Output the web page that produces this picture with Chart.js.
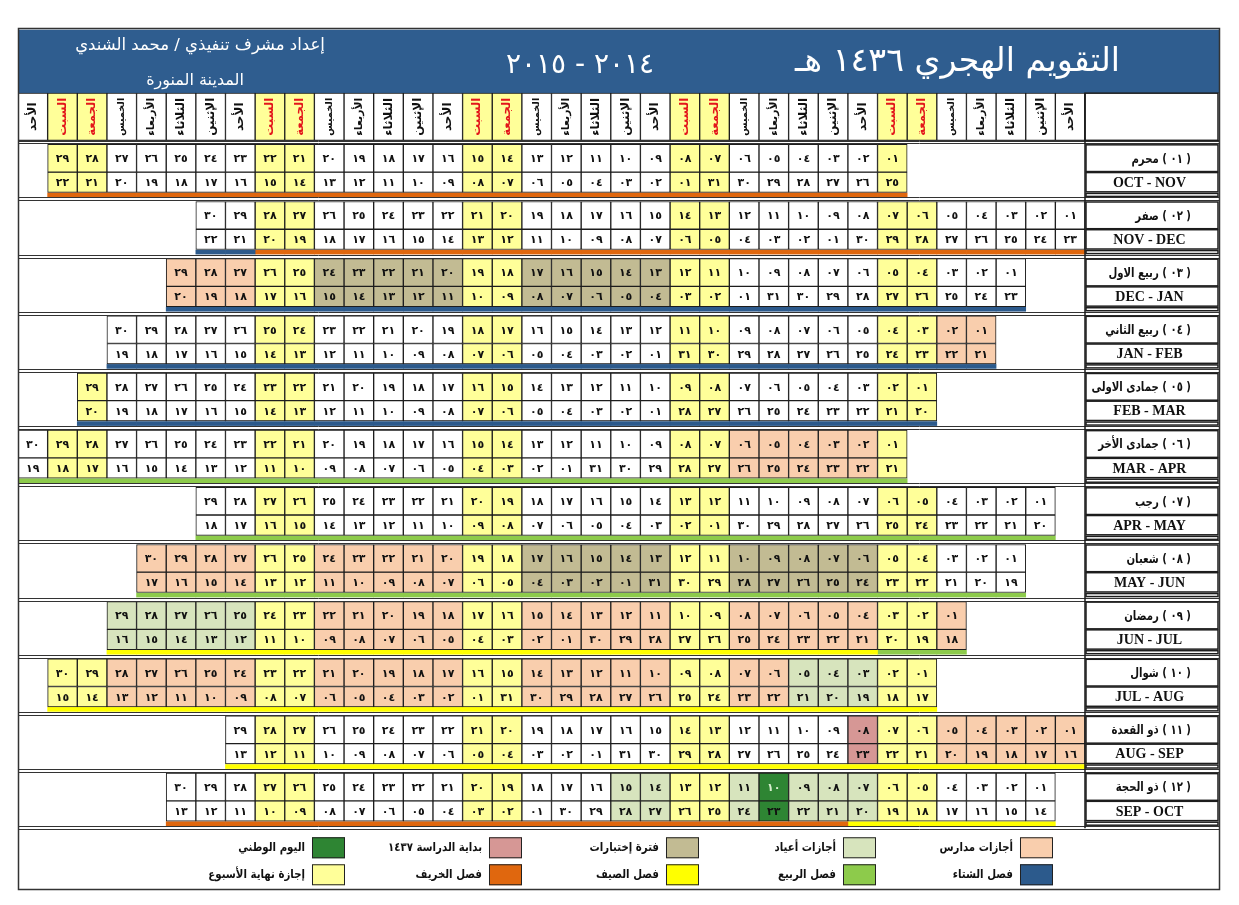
<!DOCTYPE html>
<html lang="ar">
<head>
<meta charset="utf-8">
<title>التقويم الهجري ١٤٣٦ هـ</title>
<script src="https://cdn.jsdelivr.net/npm/chart.js@4.4.1/dist/chart.umd.min.js"></script>
<style>
  html, body { margin: 0; padding: 0; background: #fff; }
  #wrap { position: relative; width: 1239px; height: 905px; }
</style>
</head>
<body>
<div id="wrap"><canvas id="hijriChart"></canvas></div>
<script>
// Calendar data
var dayNames = ['الأحد', 'الإثنين', 'الثلاثاء', 'الأربعاء', 'الخميس', 'الجمعة', 'السبت'];
var hijriMonths = ['محرم', 'صفر', 'ربيع الاول', 'ربيع الثاني', 'جمادى الاولى', 'جمادى الأخر',
                   'رجب', 'شعبان', 'رمضان', 'شوال', 'ذو القعدة', 'ذو الحجة'];
var gregRanges = ['OCT - NOV', 'NOV - DEC', 'DEC - JAN', 'JAN - FEB', 'FEB - MAR', 'MAR - APR',
                  'APR - MAY', 'MAY - JUN', 'JUN - JUL', 'JUL - AUG', 'AUG - SEP', 'SEP - OCT'];
var startCol = [6, 0, 2, 3, 5, 6, 1, 2, 4, 5, 0, 1];          // weekday of day 1 (0 = Sunday)
var monthDays = [29, 30, 29, 30, 29, 30, 29, 30, 29, 30, 29, 30];
var gregStart = [25, 23, 23, 21, 20, 21, 20, 19, 18, 17, 16, 14];  // gregorian date of day 1
var gregMonthDays = [31, 30, 31, 31, 28, 31, 30, 31, 30, 31, 31, 30];

// special periods: [month index, first day, last day]
var schoolHolidays = [[2, 27, 29], [3, 1, 2], [5, 2, 6], [7, 20, 30], [8, 1, 24], [9, 6, 30], [10, 1, 5]];
var examDays = [[2, 13, 24], [7, 6, 17]];
var eidDays = [[8, 25, 29], [9, 1, 5], [11, 7, 15]];
var studyStart = [[10, 8, 8]];
var nationalDay = [[11, 10, 10]];
// season strip under each month: [month index, first day, last day, season]
var seasons = [[0, 1, 29, 'autumn'], [1, 1, 28, 'autumn'], [1, 29, 30, 'winter'], [2, 1, 29, 'winter'],
               [3, 1, 30, 'winter'], [4, 1, 29, 'winter'], [5, 1, 30, 'spring'], [6, 1, 29, 'spring'],
               [7, 1, 30, 'spring'], [8, 1, 3, 'spring'], [8, 4, 29, 'summer'], [9, 1, 30, 'summer'],
               [10, 1, 29, 'summer'], [11, 1, 7, 'summer'], [11, 8, 30, 'autumn']];

var legendTopLabels = ['أجازات مدارس', 'أجازات أعياد', 'فترة إختبارات', 'بداية الدراسة ١٤٣٧', 'اليوم الوطني'];
var legendTopKeys = ['school', 'eid', 'exam', 'study', 'national'];
var legendBottomLabels = ['فصل الشتاء', 'فصل الربيع', 'فصل الصيف', 'فصل الخريف', 'إجازة نهاية الأسبوع'];
var legendBottomKeys = ['winter', 'spring', 'summer', 'autumn', 'weekend'];

var colors = {
    weekend: '#FFFF99', school: '#F9CEAD', eid: '#D7E4BD', exam: '#C2BB93', study: '#D69795',
    national: '#2E8533', winter: '#2C5A8C', spring: '#8DCB4B', summer: '#FFFF00', autumn: '#E0670E',
    band: '#2F5D8F', line: '#1d1d1d'
};

var ARABIC_DIGITS = '٠١٢٣٤٥٦٧٨٩';
function ar(n) {
    return String(n).padStart(2, '0').replace(/\d/g, function (d) { return ARABIC_DIGITS[d]; });
}
function inRanges(list, m, d) {
    return list.some(function (r) { return r[0] === m && d >= r[1] && d <= r[2]; });
}
function isWeekend(col) { return col % 7 === 5 || col % 7 === 6; }
function cellColor(m, d, col) {
    if (inRanges(nationalDay, m, d)) return colors.national;
    if (inRanges(studyStart, m, d)) return colors.study;
    if (isWeekend(col)) return colors.weekend;
    if (inRanges(examDays, m, d)) return colors.exam;
    if (inRanges(eidDays, m, d)) return colors.eid;
    if (inRanges(schoolHolidays, m, d)) return colors.school;
    return '#FFFFFF';
}

// row bands inside one month block (y unit = one month block)
var HIJRI_ROW = [0.035, 0.52], GREG_ROW = [0.52, 0.875], SEASON_ROW = [0.885, 0.955];
var HEADER_ROW = [1.14, 1.965];

var headerPts = [], headerBg = [];
for (var c = 0; c < 36; c++) {
    headerPts.push({ x: c, y: HEADER_ROW, name: dayNames[c % 7] });
    headerBg.push(isWeekend(c) ? colors.weekend : '#FFFFFF');
}

var hijriPts = [], hijriBg = [], gregPts = [], gregBg = [];
hijriMonths.forEach(function (name, m) {
    var base = 2 + m;
    for (var d = 1; d <= monthDays[m]; d++) {
        var col = startCol[m] + d - 1;
        var g = gregStart[m] + d - 1;
        if (g > gregMonthDays[m]) g -= gregMonthDays[m];
        var bg = cellColor(m, d, col);
        hijriPts.push({ x: col, y: [base + HIJRI_ROW[0], base + HIJRI_ROW[1]], txt: ar(d), dark: bg === colors.national });
        hijriBg.push(bg);
        gregPts.push({ x: col, y: [base + GREG_ROW[0], base + GREG_ROW[1]], txt: ar(g) });
        gregBg.push(bg);
    }
});

var seasonPts = [], seasonBg = [];
seasons.forEach(function (s) {
    for (var d = s[1]; d <= s[2]; d++) {
        seasonPts.push({ x: startCol[s[0]] + d - 1, y: [2 + s[0] + SEASON_ROW[0], 2 + s[0] + SEASON_ROW[1]] });
        seasonBg.push(colors[s[3]]);
    }
});

function fitFont(ctx, text, width, weight, family, maxSize) {
    ctx.font = weight + ' ' + maxSize + 'px ' + family;
    var w = ctx.measureText(text).width;
    var size = w > width ? maxSize * width / w : maxSize;
    ctx.font = weight + ' ' + size.toFixed(1) + 'px ' + family;
}
// text whose right edge sits at x, squeezed horizontally by k (DejaVu runs wider than the sheet's font)
function textRight(ctx, text, x, y, k) {
    k = k || 1;
    ctx.save();
    ctx.translate(x, y);
    ctx.scale(k, 1);
    ctx.textAlign = 'left';
    ctx.fillText(text, -ctx.measureText(text).width, 0);
    ctx.restore();
}

var AR_FONT = '"DejaVu Sans", "Noto Sans", sans-serif';

var calendarDecor = {
    id: 'calendarDecor',
    beforeDatasetsDraw: function (chart) {
        var ctx = chart.ctx, ys = chart.scales.y, area = chart.chartArea;
        ctx.save();
        ctx.fillStyle = colors.band;
        var top = ys.getPixelForValue(0.03), bottom = ys.getPixelForValue(HEADER_ROW[0]);
        ctx.fillRect(area.left, top, area.right - area.left, bottom - top);

        // title texts
        ctx.fillStyle = '#FFFFFF';
        ctx.textBaseline = 'middle';
        fitFont(ctx, 'التقويم الهجري ١٤٣٦ هـ', 325, 'normal', AR_FONT, 34);
        textRight(ctx, 'التقويم الهجري ١٤٣٦ هـ', area.right - 100, 62);
        ctx.textAlign = 'center';
        fitFont(ctx, '٢٠١٤ - ٢٠١٥', 150, 'normal', AR_FONT, 28);
        ctx.fillText('٢٠١٤ - ٢٠١٥', 580, 66);
        fitFont(ctx, 'إعداد مشرف تنفيذي / محمد الشندي', 250, 'normal', AR_FONT, 17);
        ctx.fillText('إعداد مشرف تنفيذي / محمد الشندي', 200, 46);
        fitFont(ctx, 'المدينة المنورة', 100, 'normal', AR_FONT, 16);
        ctx.fillText('المدينة المنورة', 195, 81);
        ctx.restore();
    },
    afterDatasetsDraw: function (chart) {
        var ctx = chart.ctx, xs = chart.scales.x, ys = chart.scales.y, area = chart.chartArea;
        var labelLeft = xs.getPixelForValue(-0.5);
        ctx.save();
        ctx.textBaseline = 'middle';
        ctx.textAlign = 'center';

        // day names, rotated
        chart.getDatasetMeta(0).data.forEach(function (el, i) {
            var p = headerPts[i];
            ctx.save();
            ctx.translate(el.x, (el.y + el.base) / 2);
            ctx.rotate(-Math.PI / 2);
            ctx.fillStyle = isWeekend(p.x) ? '#E3161B' : '#111111';
            fitFont(ctx, p.name, 38, 'bold', AR_FONT, 12);
            ctx.fillText(p.name, 0, 0);
            ctx.restore();
        });

        // day numbers
        ctx.font = 'bold 11px ' + AR_FONT;
        chart.getDatasetMeta(1).data.forEach(function (el, i) {
            ctx.fillStyle = hijriPts[i].dark ? '#D8EFCF' : '#111111';
            ctx.fillText(hijriPts[i].txt, el.x, (el.y + el.base) / 2 + 1);
        });
        ctx.fillStyle = '#111111';
        chart.getDatasetMeta(2).data.forEach(function (el, i) {
            ctx.fillText(gregPts[i].txt, el.x, (el.y + el.base) / 2 + 1);
        });

        // block separators
        ctx.strokeStyle = '#333333';
        ctx.lineWidth = 1;
        for (var i = 0; i <= 12; i++) {
            var yb = Math.round(ys.getPixelForValue(2 + i));
            ctx.beginPath();
            ctx.moveTo(area.left, yb - 1.5); ctx.lineTo(area.right, yb - 1.5);
            ctx.moveTo(area.left, yb + 1.5); ctx.lineTo(area.right, yb + 1.5);
            if (i === 0) { ctx.moveTo(area.left, yb - 0.5); ctx.lineTo(area.right, yb - 0.5); }
            ctx.stroke();
        }

        // month label column
        ctx.strokeStyle = colors.line;
        ctx.lineWidth = 1.5;
        var labelRight = area.right - 2;
        ctx.strokeRect(labelLeft, ys.getPixelForValue(HEADER_ROW[0]), labelRight - labelLeft,
                       ys.getPixelForValue(HEADER_ROW[1]) - ys.getPixelForValue(HEADER_ROW[0]));
        hijriMonths.forEach(function (name, m) {
            var base = 2 + m;
            [HIJRI_ROW, GREG_ROW, SEASON_ROW].forEach(function (r) {
                var t = ys.getPixelForValue(base + r[0]), b = ys.getPixelForValue(base + r[1]);
                ctx.strokeRect(labelLeft + 1, t + 0.5, labelRight - labelLeft - 1, b - t - 1);
            });
            var yH = ys.getPixelForValue(base + (HIJRI_ROW[0] + HIJRI_ROW[1]) / 2) + 1;
            var yG = ys.getPixelForValue(base + (GREG_ROW[0] + GREG_ROW[1]) / 2) + 1;
            var xR = area.right - 29, k = 0.78;
            ctx.fillStyle = '#111111';
            ctx.font = 'bold 13px ' + AR_FONT;
            var paren = '( ' + ar(m + 1) + ' )';
            var wParen = ctx.measureText(paren).width * k;
            var wSpace = ctx.measureText(' ').width * k;
            textRight(ctx, paren, xR, yH, k);
            textRight(ctx, name, xR - wParen - wSpace, yH, k);
            ctx.textAlign = 'center';
            ctx.font = 'bold 14px "Liberation Serif", "Times New Roman", serif';
            ctx.fillText(gregRanges[m], (labelLeft + labelRight) / 2 - 2, yG);
        });
        ctx.beginPath();
        ctx.moveTo(labelLeft, ys.getPixelForValue(HEADER_ROW[0]));
        ctx.lineTo(labelLeft, ys.getPixelForValue(14));
        ctx.stroke();

        // legend
        var legendTop = ys.getPixelForValue(14);
        ctx.lineWidth = 1;
        ctx.font = 'bold 12px ' + AR_FONT;
        [[legendTopLabels, legendTopKeys, 9], [legendBottomLabels, legendBottomKeys, 36]].forEach(function (row) {
            row[0].forEach(function (label, k) {
                var bx = labelLeft - 32 - k * 177 - 33, by = legendTop + row[2];
                ctx.fillStyle = colors[row[1][k]];
                ctx.fillRect(bx, by, 33, 21);
                ctx.strokeStyle = '#222222';
                ctx.strokeRect(bx + 0.5, by + 0.5, 32, 20);
                ctx.fillStyle = '#111111';
                textRight(ctx, label, bx - 7, by + 11, 0.85);
            });
        });

        // outer frame
        ctx.strokeStyle = '#333333';
        ctx.lineWidth = 1.5;
        ctx.strokeRect(area.left + 0.5, area.top + 0.5, area.right - area.left - 1, area.bottom - area.top - 1);
        ctx.restore();
    }
};

var ctx = document.getElementById('hijriChart').getContext('2d');
var hijriChart = new Chart(ctx, {
    type: 'bar',
    data: {
        datasets: [
            { label: 'header', data: headerPts, backgroundColor: headerBg, borderColor: colors.line, borderWidth: 1 },
            { label: 'hijri', data: hijriPts, backgroundColor: hijriBg, borderColor: colors.line, borderWidth: 1 },
            { label: 'gregorian', data: gregPts, backgroundColor: gregBg, borderColor: colors.line, borderWidth: 1 },
            { label: 'season', data: seasonPts, backgroundColor: seasonBg, borderWidth: 0 }
        ]
    },
    options: {
        responsive: true,
        maintainAspectRatio: false,
        animation: false,
        events: [],
        layout: { padding: { left: 18, right: 19, top: 28, bottom: 15 } },
        datasets: {
            bar: { grouped: false, barPercentage: 1, categoryPercentage: 1, borderSkipped: false }
        },
        plugins: {
            legend: { display: false },
            tooltip: { enabled: false }
        },
        scales: {
            x: {
                type: 'linear', reverse: true, min: -5.055, max: 35.5, display: false, offset: false,
                ticks: { stepSize: 1, includeBounds: false }
            },
            y: { type: 'linear', reverse: true, min: 0, max: 15.08, display: false }
        }
    },
    plugins: [calendarDecor]
});
</script>
</body>
</html>
